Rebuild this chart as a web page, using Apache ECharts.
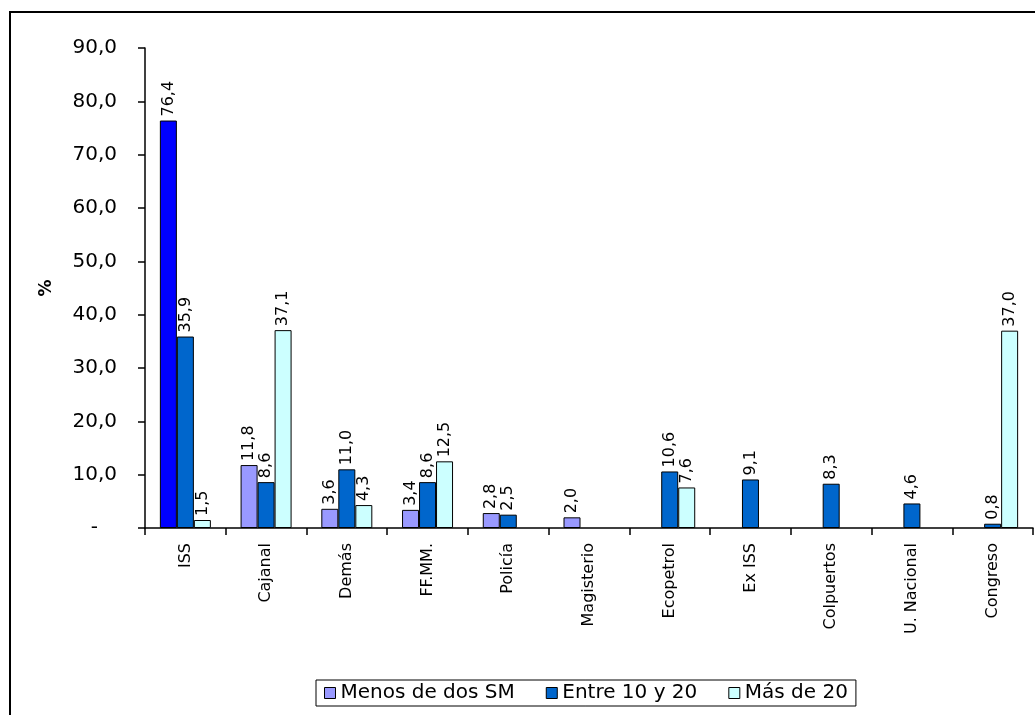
<!DOCTYPE html>
<html>
<head>
<meta charset="utf-8">
<script src="https://cdn.jsdelivr.net/npm/echarts@6/dist/echarts.min.js"></script>
<style>
  html, body { margin: 0; padding: 0; background: #fff; }
  #chart { width: 1035px; height: 715px; }
</style>
</head>
<body>
<div id="chart"></div>
<script>
const categories = ['ISS', 'Cajanal', 'Demás', 'FF.MM.', 'Policía', 'Magisterio', 'Ecopetrol', 'Ex ISS', 'Colpuertos', 'U. Nacional', 'Congreso'];
const menosDeDos = [76.4, 11.8, 3.6, 3.4, 2.8, 2.0, null, null, null, null, null];
const entre10y20 = [35.9, 8.6, 11.0, 8.6, 2.5, null, 10.6, 9.1, 8.3, 4.6, 0.8];
const masDe20 = [1.5, 37.1, 4.3, 12.5, null, null, 7.6, null, null, null, 37.0];
const seriesNames = ['Menos de dos SM', 'Entre 10 y 20', 'Más de 20'];
const colors = ['#9999FF', '#0066CC', '#CCFFFF'];

const fmt = v => v.toFixed(1).replace('.', ',');
const font = 'DejaVu Sans, Verdana, sans-serif';

const chart = echarts.init(document.getElementById('chart'));

function makeSeries(name, values, color, idx) {
  const data = values.map((v, i) => {
    // first ISS bar is drawn in a brighter blue in the original
    if (idx === 0 && i === 0) return { value: v, itemStyle: { color: '#0000FF' } };
    return v;
  });
  return {
    name: name,
    type: 'bar',
    data: data,
    barWidth: 17,
    barGap: '0%',
    itemStyle: { color: color, borderColor: '#000', borderWidth: 1 },
    label: {
      show: true,
      position: 'top',
      rotate: 90,
      align: 'left',
      verticalAlign: 'middle',
      distance: 4,
      color: '#000',
      fontFamily: font,
      fontSize: 16,
      formatter: p => (p.value == null ? '' : fmt(p.value))
    }
  };
}

chart.setOption({
  animation: false,
  backgroundColor: '#fff',
  color: colors,
  graphic: [{
    type: 'rect',
    shape: { x: 10, y: 12, width: 1040, height: 720 },
    style: { fill: 'none', stroke: '#000', lineWidth: 2 },
    z: -1
  }],
  grid: { left: 145, top: 48, right: 2, bottom: 187 },
  legend: {
    bottom: 9,
    left: 316,
    itemWidth: 11,
    itemHeight: 11,
    itemGap: 31,
    padding: [3, 8, 3, 8],
    borderColor: '#000',
    borderWidth: 1,
    icon: 'rect',
    itemStyle: { borderColor: '#000', borderWidth: 1 },
    textStyle: { fontFamily: font, fontSize: 20, color: '#000' },
    data: seriesNames
  },
  xAxis: {
    type: 'category',
    data: categories,
    axisLine: { lineStyle: { color: '#000', width: 1.5 } },
    axisTick: { show: true, alignWithLabel: false, length: 7, lineStyle: { color: '#000', width: 1.5 } },
    axisLabel: { rotate: 90, margin: 15, color: '#000', fontFamily: font, fontSize: 16, interval: 0 }
  },
  yAxis: {
    type: 'value',
    min: 0,
    max: 90,
    interval: 10,
    name: '%',
    nameLocation: 'middle',
    nameRotate: 90,
    nameGap: 90,
    nameTextStyle: { fontFamily: font, fontSize: 17, fontWeight: 'bold', color: '#000' },
    splitLine: { show: false },
    axisLine: { show: true, lineStyle: { color: '#000', width: 1.5 } },
    axisTick: { show: true, inside: false, length: 7, lineStyle: { color: '#000', width: 1.5 } },
    axisLabel: {
      color: '#000', fontFamily: font, fontSize: 20, margin: 28,
      formatter: v => (v === 0 ? '-\u00a0\u00a0\u00a0' : fmt(v))
    }
  },
  series: [
    makeSeries(seriesNames[0], menosDeDos, colors[0], 0),
    makeSeries(seriesNames[1], entre10y20, colors[1], 1),
    makeSeries(seriesNames[2], masDe20, colors[2], 2)
  ]
});
</script>
</body>
</html>
